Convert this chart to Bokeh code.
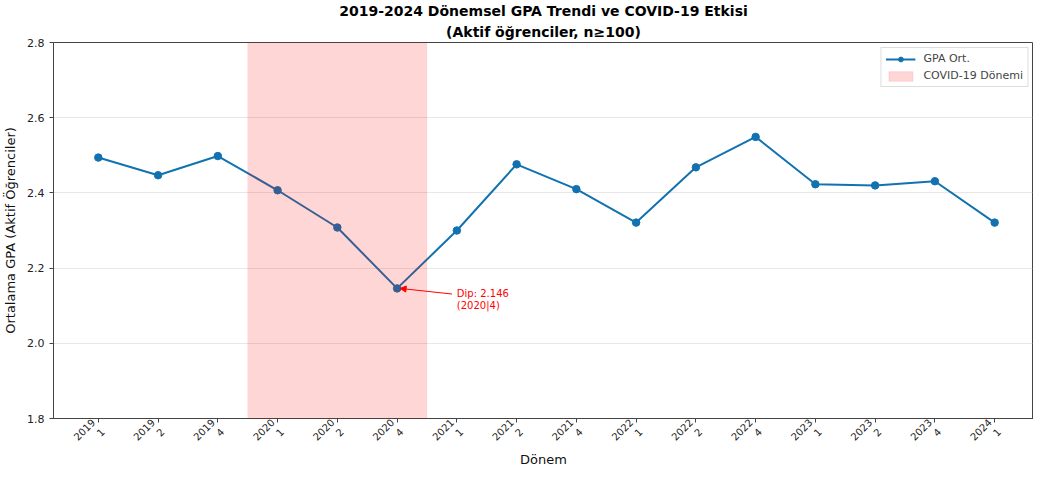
from bokeh.plotting import figure
from bokeh.models import (ColumnDataSource, FixedTicker, BoxAnnotation, Arrow, NormalHead,
                          Range1d, Legend, LegendItem, Title)
from bokeh.embed import file_html
from bokeh.resources import INLINE
from bokeh.core.properties import value

years = ["2019", "2019", "2019", "2020", "2020", "2020", "2021", "2021", "2021",
         "2022", "2022", "2022", "2023", "2023", "2023", "2024"]
terms = ["1", "2", "4", "1", "2", "4", "1", "2", "4", "1", "2", "4", "1", "2", "4", "1"]
gpa = [2.494, 2.447, 2.498, 2.407, 2.308, 2.146, 2.300, 2.476, 2.410,
       2.321, 2.468, 2.549, 2.423, 2.420, 2.431, 2.321]
y_ticks = [1.8, 2.0, 2.2, 2.4, 2.6, 2.8]
covid_start, covid_end = 2.5, 5.5
title_main = "2019-2024 Dönemsel GPA Trendi ve COVID-19 Etkisi"
title_sub = "(Aktif öğrenciler, n≥100)"

idx = list(range(len(gpa)))
src = ColumnDataSource(dict(x=idx, y=gpa))

FONT = "DejaVu Sans"
BLUE = "#1272b0"
X0, X1, Y0, Y1 = -0.75, 15.65, 1.8, 2.8

p = figure(width=1033, height=469, output_backend="svg", toolbar_location=None,
           x_range=Range1d(X0, X1), y_range=Range1d(Y0, Y1),
           min_border_right=0, min_border_left=47, min_border_top=0, min_border_bottom=0)

p.add_layout(Title(text=title_sub, align="center", text_font=FONT, text_font_size="14px",
                   text_font_style="bold", text_color="#000000", standoff=5, offset=0), "above")
p.add_layout(Title(text=title_main, align="center", text_font=FONT, text_font_size="14px",
                   text_font_style="bold", text_color="#000000", standoff=1, offset=0), "above")

covid = BoxAnnotation(left=covid_start, right=covid_end, fill_color="red", fill_alpha=0.16,
                      line_color="red", line_alpha=0.05)
p.add_layout(covid)

line = p.line("x", "y", source=src, line_color=BLUE, line_width=2)
pts = p.scatter("x", "y", source=src, size=7.5, fill_color=BLUE, line_color=BLUE)

patch = p.quad(left=[0], right=[0], bottom=[0], top=[0], fill_color="red", fill_alpha=0.16,
               line_color="red", line_alpha=0.1)

legend = Legend(items=[LegendItem(label="GPA Ort.", renderers=[line, pts]),
                       LegendItem(label="COVID-19 Dönemi", renderers=[patch])],
                location="top_right", label_text_font=FONT, label_text_font_size="11px",
                border_line_color="#dddddd", border_line_alpha=1.0, background_fill_alpha=0.9,
                glyph_width=30, glyph_height=12, spacing=4, padding=4, margin=5,
                label_standoff=8, label_height=13)
p.add_layout(legend)

dip_i = gpa.index(min(gpa))
p.add_layout(Arrow(end=NormalHead(size=6, fill_color="red", line_color="red"),
                   x_start=dip_i + 0.92, y_start=gpa[dip_i] - 0.015,
                   x_end=dip_i + 0.05, y_end=gpa[dip_i],
                   line_color="red", line_width=1))
p.text(x=[dip_i + 1.0], y=[gpa[dip_i] - 0.03],
       text=[f"Dip: {gpa[dip_i]:.3f}\n({years[dip_i]}|{terms[dip_i]})"],
       text_color="red", text_font=value(FONT), text_font_size="10px",
       text_baseline="middle", text_align="left", text_line_height=1.1)

p.xaxis.ticker = FixedTicker(ticks=idx)
p.xaxis.major_label_overrides = {i: f"{y}\n{t}" for i, (y, t) in enumerate(zip(years, terms))}
p.xaxis.major_label_orientation = 0.785
p.xaxis.major_label_text_font_size = "10px"
p.xaxis.major_label_text_line_height = 1.2
p.xaxis.major_label_standoff = 3
p.xaxis.axis_label_standoff = -12
p.yaxis.ticker = FixedTicker(ticks=y_ticks)
p.yaxis.major_label_overrides = {v: f"{v:.1f}" for v in y_ticks}
p.yaxis.major_label_text_font_size = "11px"
p.yaxis.axis_label_standoff = 6
for ax in (p.xaxis, p.yaxis):
    ax.major_label_text_font = FONT
    ax.major_label_text_color = "#222222"
    ax.axis_line_color = "#444444"
    ax.major_tick_line_color = "#444444"
    ax.major_tick_in = 0
    ax.major_tick_out = 4
    ax.minor_tick_line_color = None
    ax.axis_label_text_font = FONT
    ax.axis_label_text_font_style = "normal"
    ax.axis_label_text_font_size = "13px"
    ax.axis_label_text_color = "#111111"
p.xaxis.axis_label = "Dönem"
p.yaxis.axis_label = "Ortalama GPA (Aktif Öğrenciler)"

p.xgrid.grid_line_color = None
p.ygrid.grid_line_color = "#b0b0b0"
p.ygrid.grid_line_alpha = 0.3
p.outline_line_color = "#444444"
p.outline_line_width = 1

open("out.html", "w").write(file_html(p, INLINE))
